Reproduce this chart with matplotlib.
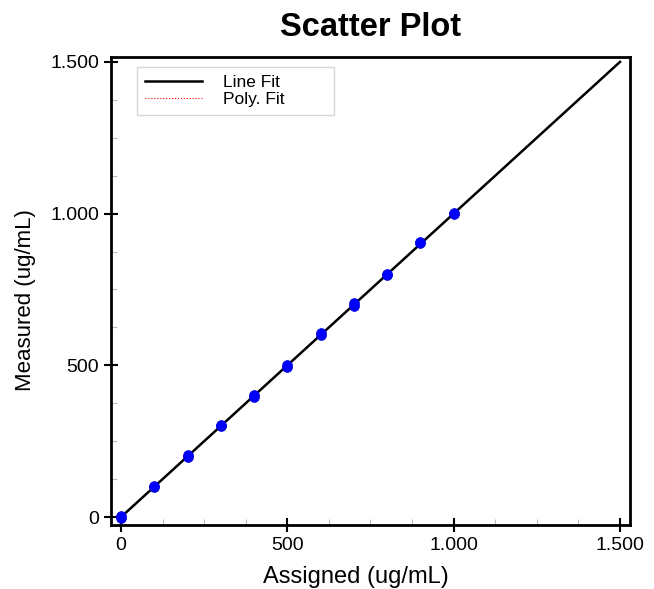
import matplotlib
matplotlib.use("Agg")
import matplotlib.pyplot as plt
from matplotlib.ticker import FuncFormatter, MultipleLocator

assigned = [0, 100, 200, 300, 400, 500, 600, 700, 800, 900, 1000]
measured_rep1 = [-2, 98, 197, 299, 395, 496, 600, 697, 797, 903, 998]
measured_rep2 = [2, 103, 203, 304, 402, 501, 605, 704, 800, 906, 1001]
fit_x = [0, 1500]
slope, intercept = 1.0, 0.0
fit_y = [slope * v + intercept for v in fit_x]
title = "Scatter Plot"
xlabel = "Assigned (ug/mL)"
ylabel = "Measured (ug/mL)"

plt.rcParams['font.family'] = ["Liberation Sans", 'DejaVu Sans']

fig = plt.figure(figsize=(6.54, 5.89), dpi=100)
ax = fig.add_axes([0.1697, 0.1087, 0.7936, 0.7945])

ax.plot(fit_x, fit_y, color="black", lw=1.8, label="Line Fit", zorder=2)
ax.plot(fit_x, fit_y, color="red", lw=0.8, ls=":", label="Poly. Fit", zorder=1)
ax.scatter(assigned, measured_rep1, s=50, color="#0000ff", edgecolors="#0000dd", linewidths=0.5, zorder=3)
ax.scatter(assigned, measured_rep2, s=50, color="#0000ff", edgecolors="#0000dd", linewidths=0.5, zorder=3)

ax.set_xlim(-30, 1530)
ax.set_ylim(-26, 1516)
ax.xaxis.set_major_locator(MultipleLocator(500))
ax.yaxis.set_major_locator(MultipleLocator(500))
ax.xaxis.set_minor_locator(MultipleLocator(125))
ax.yaxis.set_minor_locator(MultipleLocator(125))
fmt = FuncFormatter(lambda v, p: f"{int(v):,}".replace(",", "."))
ax.xaxis.set_major_formatter(fmt)
ax.yaxis.set_major_formatter(fmt)
ax.tick_params(which="major", direction="inout", length=10, width=1.5, labelsize=14, color="black")
ax.tick_params(which="minor", direction="in", length=4, width=0.8, color="#bbbbbb")
for s in ax.spines.values():
    s.set_linewidth(2)

ax.set_title(title, fontsize=23.5, fontweight="bold", pad=15)
ax.set_xlabel(xlabel, fontsize=17)
ax.set_ylabel(ylabel, fontsize=16)
ax.xaxis.set_label_coords(0.472, -0.0876)
ax.yaxis.set_label_coords(-0.1445, 0.481)

leg = ax.legend(loc="upper left", bbox_to_anchor=(0.050, 0.880, 0.380, 0.099), mode="expand",
                fancybox=False, edgecolor="#cccccc", fontsize=12.5, handlelength=3.3,
                borderpad=0.45, labelspacing=0.1, handletextpad=1.2, borderaxespad=0.0)
leg.get_frame().set_linewidth(1)
fig.savefig("out.png", dpi=100)
